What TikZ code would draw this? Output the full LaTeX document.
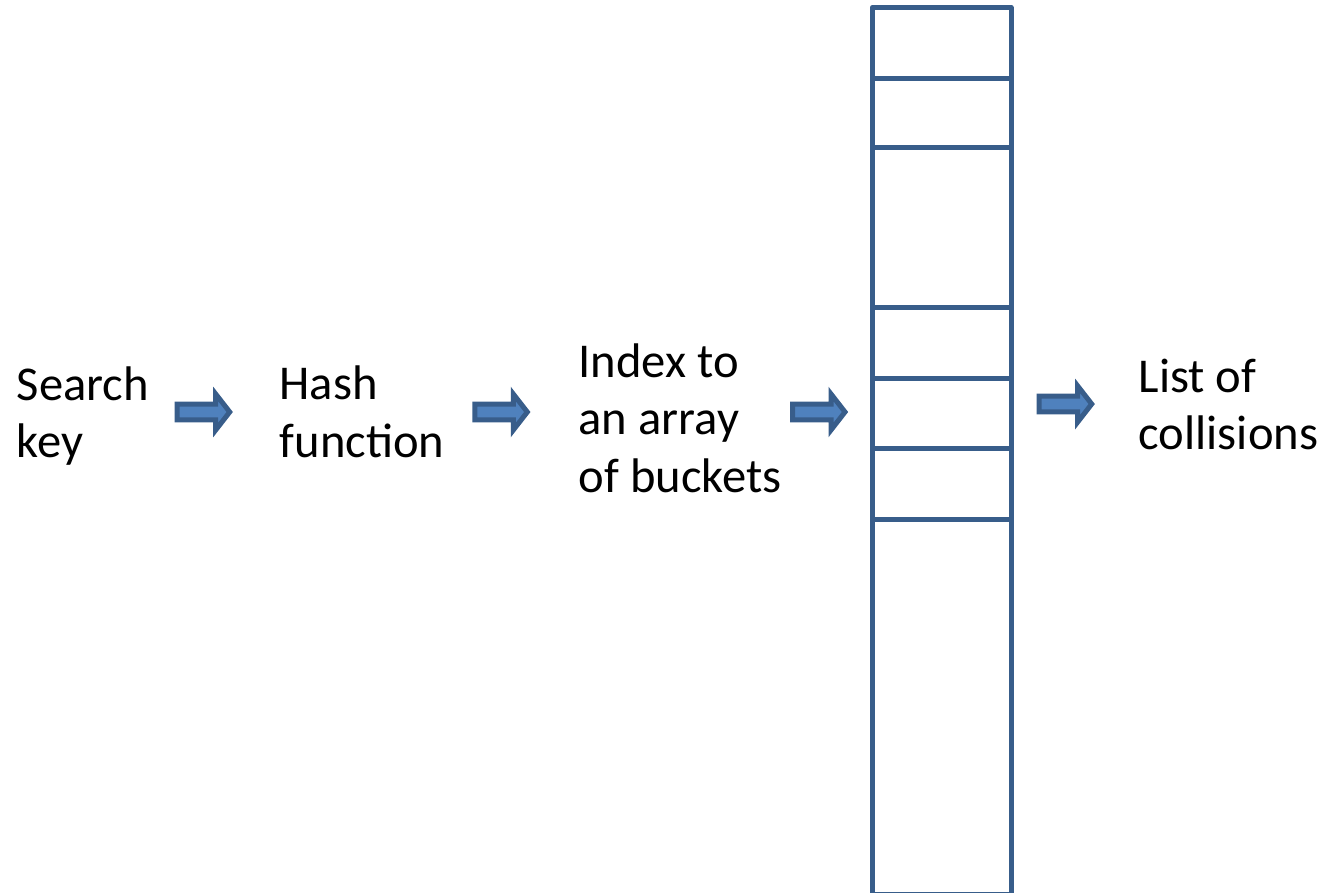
\documentclass[tikz,border=0pt]{standalone}
\usepackage{fontspec}
\setmainfont{Carlito}
\newcommand\textstack[1]{\vtop{\baselineskip=57.7pt\lineskiplimit=-100pt #1}}
\definecolor{arrowfill}{HTML}{4F81BD}
\definecolor{arrowline}{HTML}{385D8A}
\begin{document}
\begin{tikzpicture}[x=1pt,y=-1pt,
  label/.style={anchor=base west, inner sep=0pt, font=\fontsize{48.6}{57.7}\selectfont},
  arrowbody/.style={draw=arrowline, fill=arrowfill, line width=5pt, miter limit=10},
  blockarrow/.pic={\path[arrowbody] (2.5,0) -- (2.5,7.8) -- (41,7.8) -- (41,18) -- (55,0)
      -- (41,-18) -- (41,-7.8) -- (2.5,-7.8) -- cycle;},
  cell/.style={draw=arrowline, line width=5pt}]
  \useasboundingbox (0,0) rectangle (1332,892);

  % labels along the lookup chain
  \node[label] (key)   at (16.5,400)   {\textstack{\hbox{Search}\hbox{key}}};
  \node[label] (hash)  at (279.5,399.5) {\textstack{\hbox{Hash}\hbox{function}}};
  \node[label] (index) at (578.5,377)  {\textstack{\hbox{Index to}\hbox{an array}\hbox{of buckets}}};
  \node[label] (list)  at (1138.5,392) {\textstack{\hbox{List of}\hbox{collisions}}};

  % block arrows between the stages
  \pic at (174.7,412) {blockarrow};
  \pic at (472.3,412) {blockarrow};
  \pic at (790,412)   {blockarrow};
  \pic at (1036.7,404) {blockarrow};

  % bucket array
  \coordinate (colNW) at (872.3,7.5);
  \coordinate (colSE) at (1011,894);
  \draw[cell, line join=round] (colNW) rectangle (colSE);
  \foreach \yy in {78,147.5,307.3,378,448.3,519.3}
    \draw[cell] (872.3,\yy) -- (1011,\yy);
\end{tikzpicture}
\end{document}
